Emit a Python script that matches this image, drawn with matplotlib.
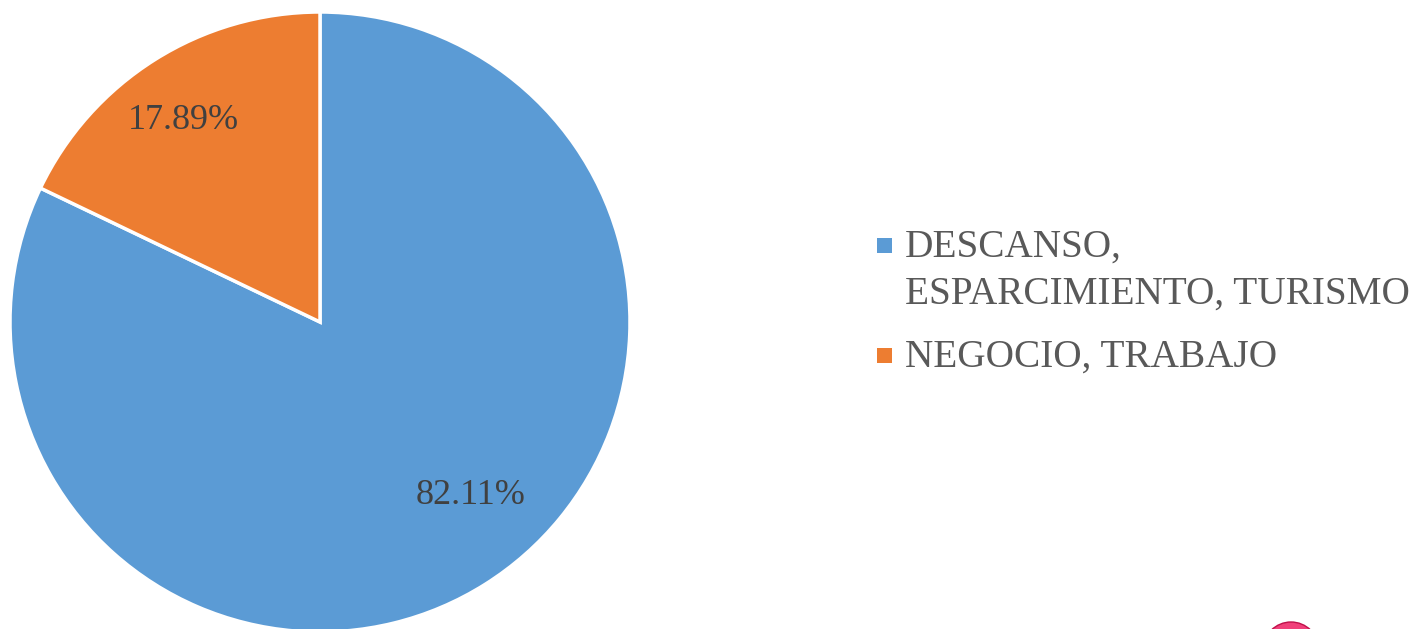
import matplotlib
matplotlib.use("Agg")
import numpy as np
import matplotlib.pyplot as plt
from matplotlib.patches import Ellipse, Rectangle

labels = ["DESCANSO,\nESPARCIMIENTO, TURISMO", "NEGOCIO, TRABAJO"]
values = [82.11, 17.89]
colors = ["#5B9BD5", "#ED7D31"]

plt.rcParams['font.family'] = ['Liberation Serif', 'DejaVu Serif']

fig = plt.figure(figsize=(14.14, 6.29), dpi=100)
W, H = 1414, 629
# pie axes placed in pixel terms: left 10, right 630, top 12, bottom 632
ax = fig.add_axes([10 / W, (H - 632) / H, 620 / W, 620 / H])

wedges, texts, autotexts = ax.pie(
    values, colors=colors, startangle=90, counterclock=False,
    autopct='%.2f%%', pctdistance=0.77,
    wedgeprops=dict(edgecolor='white', linewidth=2.5),
    textprops=dict(fontsize=26, color='#404040'))
ax.set_xlim(-1, 1)
ax.set_ylim(-1, 1)
ax.set_aspect('equal')
ax.axis('off')

# excel "best fit" puts the big label a bit off the wedge middle
ang = np.deg2rad(-49)
autotexts[0].set_position((0.74 * np.cos(ang), 0.74 * np.sin(ang)))
autotexts[1].set_position((-0.44, 0.65))

# legend drawn by hand so the marker sits on the first text line
y = 257  # baseline of first line, pixels from top
for lab, c in zip(labels, colors):
    lines = lab.split("\n")
    fig.patches.append(Rectangle((877 / W, (H - y + 4) / H), 15 / W, 15 / H,
                                 transform=fig.transFigure, facecolor=c, edgecolor='none'))
    for ln in lines:
        fig.text(905 / W, (H - y) / H, ln, fontsize=28.3, color='#595959', va='baseline')
        y += 47
    y += 16

# small pink mark peeking in at bottom right
fig.patches.append(Ellipse((1291 / W, (H - 650) / H), 56 / W, 56 / H, transform=fig.transFigure,
                           facecolor='#F0407A', edgecolor='#C0104A', linewidth=1))

fig.savefig("out.png", dpi=100)
